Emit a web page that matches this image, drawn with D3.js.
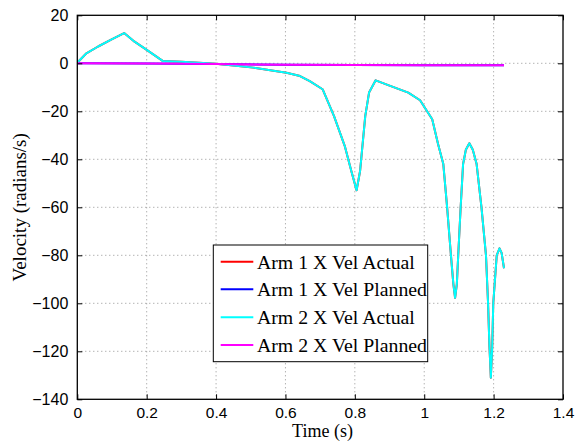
<!DOCTYPE html>
<html>
<head>
<meta charset="utf-8">
<script src="https://cdn.jsdelivr.net/npm/d3@7"></script>
<style>
  html, body { margin: 0; padding: 0; background: #fff; }
  svg { display: block; }
</style>
</head>
<body>
<svg id="chart" width="584" height="444"></svg>
<script>
// ---- data ----
const seriesNames = ["Arm 1 X Vel Actual", "Arm 1 X Vel Planned", "Arm 2 X Vel Actual", "Arm 2 X Vel Planned"];
const seriesColors = ["#ff0000", "#0000ff", "#00ffff", "#ff00ff"];

const actualTime = [0, 0.025, 0.06, 0.099, 0.135, 0.165, 0.198, 0.246, 0.3, 0.4, 0.507, 0.603, 0.642, 0.67, 0.707, 0.74, 0.771, 0.79, 0.805, 0.815, 0.83, 0.841, 0.86, 0.9, 0.954, 0.988, 1.023, 1.040, 1.055, 1.066, 1.077, 1.084, 1.089, 1.094, 1.098, 1.105, 1.112, 1.12, 1.13, 1.14, 1.151, 1.165, 1.178, 1.184, 1.188, 1.192, 1.196, 1.199, 1.209, 1.217, 1.223, 1.23];
const arm1Actual = [0.25, 4, 7, 10, 12.6, 9, 5.8, 1, 0.6, -0.2, -1.8, -3.9, -5.3, -7.4, -10.8, -22, -34.5, -45, -52.9, -45, -22, -12.2, -7.1, -9.3, -12.2, -15.4, -23.3, -33.7, -42, -60, -80, -92, -97.7, -92, -80, -60, -42, -36, -33.3, -36, -42, -60, -80, -100, -118, -131, -118, -100, -80, -77.1, -79, -85.4];
const arm2Actual = [0.25, 4, 7, 10, 12.6, 9, 5.8, 1, 0.6, -0.2, -1.8, -3.9, -5.3, -7.4, -10.8, -22, -34.5, -45, -52.9, -45, -22, -12.2, -7.1, -9.3, -12.2, -15.4, -23.3, -33.7, -42, -60, -80, -92, -97.7, -92, -80, -60, -42, -36, -33.3, -36, -42, -60, -80, -100, -118, -131, -118, -100, -80, -77.1, -79, -85.4];

const plannedTime = [0, 0.2, 0.4, 0.6, 0.8, 1.0, 1.23];
const arm1Planned = [0, -0.1, -0.3, -0.6, -0.75, -0.8, -0.8];
const arm2Planned = [0, -0.1, -0.3, -0.6, -0.75, -0.8, -0.8];

const xTicks = [0, 0.2, 0.4, 0.6, 0.8, 1, 1.2, 1.4];
const yTicks = [20, 0, -20, -40, -60, -80, -100, -120, -140];

const xLabel = "Time (s)";
const yLabel = "Velocity (radians/s)";

// ---- layout ----
const svg = d3.select("#chart");
const L = 77.3, R = 563, T = 15.3, B = 399.3;
const x = d3.scaleLinear().domain([0, 1.4]).range([L, R]);
const y = d3.scaleLinear().domain([-140, 20]).range([B, T]);

const tickFont = "'Liberation Sans', Arial, Helvetica, sans-serif";
const serif = "'Liberation Serif', 'Times New Roman', Times, serif";

svg.append("rect").attr("x", 0).attr("y", 0).attr("width", 584).attr("height", 444).attr("fill", "#fff");

// grid
const grid = svg.append("g");
grid.selectAll("line.gx").data(xTicks.filter(d => d > 0 && d < 1.4)).enter().append("line")
  .attr("x1", d => x(d)).attr("x2", d => x(d)).attr("y1", T).attr("y2", B)
  .attr("stroke", "#777").attr("stroke-width", 0.8).attr("stroke-dasharray", "1,3");
grid.selectAll("line.gy").data(yTicks.filter(d => d > -140 && d < 20)).enter().append("line")
  .attr("y1", d => y(d)).attr("y2", d => y(d)).attr("x1", L).attr("x2", R)
  .attr("stroke", "#777").attr("stroke-width", 0.8).attr("stroke-dasharray", "1,3");

// axes (ticks inward, all four sides)
const xAxisB = d3.axisBottom(x).tickValues(xTicks).tickSize(-5).tickPadding(9).tickFormat(d3.format("~g"));
const xAxisT = d3.axisTop(x).tickValues(xTicks).tickSize(-5).tickFormat("");
const yAxisL = d3.axisLeft(y).tickValues(yTicks).tickSize(-5).tickPadding(9).tickFormat(d => d < 0 ? "\u2212" + Math.abs(d) : d);
const yAxisR = d3.axisRight(y).tickValues(yTicks).tickSize(-5).tickFormat("");

function styleAxis(g) {
  g.select(".domain").remove();
  g.selectAll(".tick line").attr("stroke", "#000").attr("stroke-width", 1);
  g.selectAll("text").attr("font-family", tickFont).attr("font-size", 16).attr("fill", "#000");
}

// data lines
const line = d3.line().x(d => x(d[0])).y(d => y(d[1]));
const seriesData = [
  d3.zip(actualTime, arm1Actual),
  d3.zip(plannedTime, arm1Planned),
  d3.zip(actualTime, arm2Actual),
  d3.zip(plannedTime, arm2Planned)
];
svg.append("clipPath").attr("id", "clip").append("rect")
  .attr("x", L).attr("y", T).attr("width", R - L).attr("height", B - T);
svg.append("g").attr("clip-path", "url(#clip)").selectAll("path").data(seriesData).enter().append("path")
  .attr("d", line).attr("fill", "none")
  .attr("stroke", (d, i) => seriesColors[i]).attr("stroke-width", 2)
  .attr("stroke-linejoin", "round");

const xb = svg.append("g").attr("transform", `translate(0,${B})`).call(xAxisB).call(styleAxis);
xb.selectAll("text").attr("font-size", 15.5).attr("y", 8);
svg.append("g").attr("transform", `translate(0,${T})`).call(xAxisT).call(styleAxis);
svg.append("g").attr("transform", `translate(${L},0)`).call(yAxisL).call(styleAxis);
svg.append("g").attr("transform", `translate(${R},0)`).call(yAxisR).call(styleAxis);

// box
svg.append("rect").attr("x", L).attr("y", T).attr("width", R - L).attr("height", B - T)
  .attr("fill", "none").attr("stroke", "#000").attr("stroke-width", 1.3);

// axis labels
svg.append("text").attr("x", 322.5).attr("y", 436.5).attr("text-anchor", "middle")
  .attr("font-family", serif).attr("font-size", 18).text(xLabel);
svg.append("text").attr("transform", `translate(26,${(T + B) / 2}) rotate(-90)`).attr("text-anchor", "middle")
  .attr("font-family", serif).attr("font-size", 19).text(yLabel);

// legend
const lg = svg.append("g");
lg.append("rect").attr("x", 213.3).attr("y", 245).attr("width", 214.4).attr("height", 116.7)
  .attr("fill", "#fff").attr("stroke", "#000").attr("stroke-width", 1);
const rowY = [261.7, 289.3, 317.3, 345];
seriesNames.forEach((n, i) => {
  lg.append("line").attr("x1", 220.7).attr("x2", 253.3).attr("y1", rowY[i]).attr("y2", rowY[i])
    .attr("stroke", seriesColors[i]).attr("stroke-width", 2);
  lg.append("text").attr("x", 257).attr("y", rowY[i]).attr("dy", "0.35em")
    .attr("font-family", serif).attr("font-size", 19.8).text(n);
});
</script>
</body>
</html>
